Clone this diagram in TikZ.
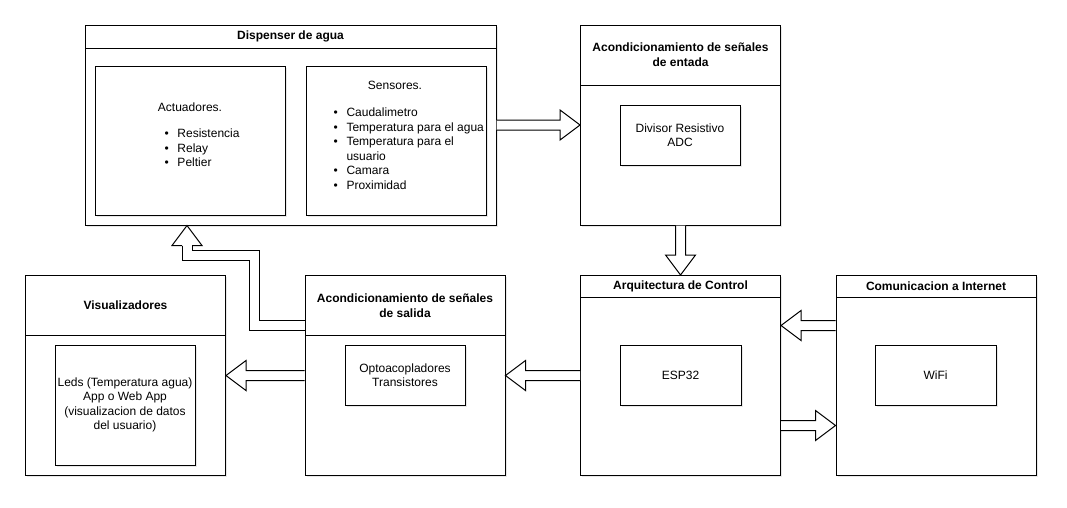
\documentclass[tikz,border=0pt]{standalone}
\usepackage{fontspec}
\setmainfont{Liberation Sans}
\usetikzlibrary{calc,positioning,shadows}

\newcommand\itm{\makebox[9.75pt][l]{\textbullet}}
\newcommand\itmc{\hspace*{9.75pt}}

% outlined wide arrow between two points
\newcommand\flexarrow[2]{%
    \coordinate (fa-a) at (#1);
    \coordinate (fa-b) at (#2);
    \coordinate (fa-h) at ($(fa-b)!15pt!(fa-a)$);
    \path[shaft] ($(fa-a)!3.75pt!90:(fa-b)$) -- ($(fa-h)!3.75pt!90:(fa-b)$)
        -- ($(fa-h)!11.25pt!90:(fa-b)$) -- (fa-b) -- ($(fa-h)!11.25pt!-90:(fa-b)$)
        -- ($(fa-h)!3.75pt!-90:(fa-b)$) -- ($(fa-a)!3.75pt!-90:(fa-b)$);
}

\tikzset{
    box/.style={rectangle, draw, fill=white, line width=0.75pt, inner sep=0pt, align=center,
        drop shadow={shadow xshift=1.2pt, shadow yshift=-1.2pt, opacity=0.18}},
    lane/.style={box, minimum width=150pt, minimum height=150pt},
    header/.style={rectangle, draw, fill=white, line width=0.75pt, font=\fontsize{9}{11.2}\selectfont\bfseries,
        align=center, inner sep=0pt, minimum width=150pt},
    label/.style={align=center, inner sep=0pt},
    shaft/.style={draw, fill=white, line width=0.75pt, line join=miter},
}

\begin{document}
\begin{tikzpicture}[x=0.75pt, y=-0.75pt, line width=0.75pt, font=\fontsize{9}{10.9}\selectfont]
    \useasboundingbox (0,0) rectangle (1067,507);

    % upper row
    \node[lane, minimum width=308.25pt] (disp) at (290.5,125) {};
    \node[header, minimum width=308.25pt, minimum height=17.25pt, anchor=north] (disph) at (disp.north) {Dispenser de agua};
    \node[box, minimum width=142.5pt, minimum height=111.75pt] (act) at (190,140.5) {};
    \node[box, minimum width=135pt, minimum height=111.75pt] (sens) at (396,140.5) {};
    \node[label] (actt) at (190,107) {Actuadores.};
    \node[label, anchor=north west, align=left] (actl) at (164,128.5) {\itm Resistencia\\\itm Relay\\\itm Peltier};
    \node[label] (senst) at (395,85) {Sensores.};
    \node[label, anchor=north west, align=left] (sensl) at (333,107.5) {\itm Caudalimetro\\\itm Temperatura para el agua\\\itm Temperatura para el\\\itmc usuario\\\itm Camara\\\itm Proximidad};

    \node[lane] (entr) at (680.5,125) {};
    \node[header, minimum height=45pt, anchor=north] (entrh) at (entr.north) {Acondicionamiento de señales\\de entada};
    \node[box, minimum width=90pt, minimum height=45pt] (div) at (680,135) {Divisor Resistivo\\ADC};

    % lower row
    \node[lane] (vis) at (125.5,375.5) {};
    \node[header, minimum height=45pt, anchor=north] (vish) at (vis.north) {Visualizadores};
    \node[box, minimum width=105pt, minimum height=90pt] (leds) at (125,405) {Leds (Temperatura agua)\\App o Web App\\(visualizacion de datos\\del usuario)};

    \node[lane] (sal) at (405,375.5) {};
    \node[header, minimum height=45pt, anchor=north] (salh) at (sal.north) {Acondicionamiento de señales\\de salida};
    \node[box, minimum width=90pt, minimum height=45pt] (opto) at (405,375) {Optoacopladores\\Transistores};

    \node[lane] (arq) at (680.5,375.5) {};
    \node[header, minimum height=16.5pt, anchor=north] (arqh) at (arq.north) {Arquitectura de Control};
    \node[box, minimum width=90.75pt, minimum height=45pt] (esp) at (680.5,375) {ESP32};

    \node[lane] (com) at (936,375.5) {};
    \node[header, minimum height=16.5pt, anchor=north] (comh) at (com.north) {Comunicacion a Internet};
    \node[box, minimum width=90.75pt, minimum height=45pt] (wifi) at (935.5,375) {WiFi};

    % arrows
    \flexarrow{disp.east}{entr.west}
    \flexarrow{entr.south}{arq.north}
    \flexarrow{arq.west}{sal.east}
    \flexarrow{sal.west}{vis.east}
    \flexarrow{$(com.west)+(0,-50)$}{$(arq.east)+(0,-50)$}
    \flexarrow{$(arq.east)+(0,50)$}{$(com.west)+(0,50)$}

    % elbow arrow back to the dispenser
    \coordinate (elA) at ($(sal.west)+(0,-50)$);
    \coordinate (elT) at ($(disp.south west)+(102.5,0)$);
    \draw[double=white, double distance=6.75pt, line join=miter] (elA) -- ++(-50,0) |- ($(elT)+(0,30)$) -- ($(elT)+(0,20)$);
    \path[shaft] ($(elT)+(5,20)$) -- ($(elT)+(15,20)$) -- (elT) -- ($(elT)+(-15,20)$) -- ($(elT)+(-5,20)$);
\end{tikzpicture}
\end{document}
